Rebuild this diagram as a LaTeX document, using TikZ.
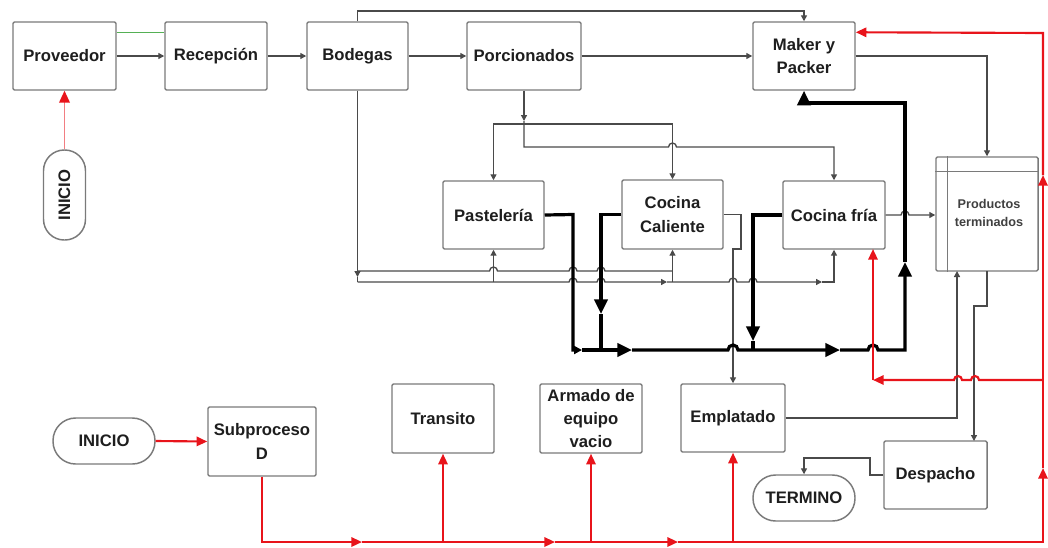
\documentclass[tikz,border=0pt]{standalone}
\usepackage{fontspec}
\setmainfont{Liberation Sans}
\usetikzlibrary{arrows.meta}
\definecolor{boxgray}{HTML}{7A7A7A}
\definecolor{linegray}{HTML}{4A4A4A}
\definecolor{txt}{HTML}{1E1E1E}
\definecolor{flowred}{HTML}{E8141B}
\definecolor{greenline}{HTML}{55B055}
\begin{document}
\begin{tikzpicture}[x=0.75pt,y=-0.75pt,
  wh/.style 2 args={minimum width=#1*0.75pt, minimum height=#2*0.75pt},
  proc/.style={draw=boxgray, line width=1.1pt, fill=white, rounded corners=1pt,
    inner sep=1pt, align=center, text=txt,
    font=\fontsize{12.5}{17.5}\selectfont\bfseries},
  stadium/.style={proc, rounded corners=17pt},
  thinline/.style={draw=linegray, line width=1pt},
  tarrow/.style={thinline, -{Triangle[length=4.5pt,width=4.5pt]}},
  thk/.style={draw=black, line width=2.4pt},
  tharrow/.style={thk, -{Triangle[length=11pt,width=10pt]}},
  rline/.style={draw=flowred, line width=1.6pt},
  rarrow/.style={rline, -{Triangle[length=8pt,width=7pt]}},
]
\useasboundingbox (0,0) rectangle (1048,547);

% ---- process boxes
\node[proc, wh={103}{68}] (prov) at (64.5,56) {Proveedor};
\node[proc, wh={102}{68}] (rec) at (216,56) {Recepción};
\node[proc, wh={101}{68}] (bod) at (357.5,56) {Bodegas};
\node[proc, wh={114}{68}] (porc) at (524,56) {Porcionados};
\node[proc, wh={102}{68}] (maker) at (804,56) {Maker y\\Packer};
\node[proc, wh={102}{114}] (prod) at (987,214) {};
\node[proc, wh={101}{68}] (past) at (493.5,215) {Pastelería};
\node[proc, wh={101}{69}] (cc) at (672.5,214.5) {Cocina\\Caliente};
\node[proc, wh={102}{68}] (cf) at (834,215) {Cocina fría};
\node[stadium, wh={90}{42}, rotate=90, rounded corners=15.5pt] (ini1) at (64.5,195) {INICIO};
\node[stadium, wh={102}{46}] (ini2) at (104,441) {INICIO};
\node[proc, wh={108}{69}] (sub) at (262,441.5) {Subproceso\\D};
\node[proc, wh={102}{69}] (trans) at (443,418.5) {Transito};
\node[proc, wh={102}{69}] (arm) at (591,418.5) {Armado de\\equipo\\vacio};
\node[proc, wh={104}{68}] (empl) at (733,418) {Emplatado};
\node[proc, wh={103}{68}] (desp) at (935.5,475) {Despacho};
\node[stadium, wh={102}{46}] (termino) at (804,498) {TERMINO};

% internal storage symbol for finished products
\draw[boxgray, line width=1.1pt] ([xshift=9pt]prod.north west) -- ([xshift=9pt]prod.south west);
\draw[boxgray, line width=1.1pt] ([yshift=-11.25pt]prod.north west) -- ([yshift=-11.25pt]prod.north east);
\node[font=\fontsize{9.5}{13}\selectfont\bfseries, text=txt!85, align=center] (prodtxt) at (989,213) {Productos\\terminados};

% ---- main supply chain
\draw[greenline, line width=0.9pt] ([yshift=-8.25pt]prov.north east) -- ([yshift=-8.25pt]rec.north west);
\draw[tarrow] (prov.east) -- (rec.west);
\draw[tarrow] (rec.east) -- (bod.west);
\draw[tarrow] (bod.east) -- (porc.west);
\draw[tarrow] (porc.east) -- (maker.west);
\draw[tarrow] (bod.north) -- (357.5,11) -- (804,11) -- (maker.north);
\draw[tarrow] (maker.east) -- (987,56) -- (prod.north);

% ---- Porcionados distribution
\draw[tarrow] (porc.south) -- (524,121);
\draw[tarrow] (524,124) -- (493.5,124) -- (past.north);
\draw[tarrow] (524,124) -- (672.5,124) -- (cc.north);
\draw[tarrow] (524,121) -- (524,147) -- (668.5,147)
  arc[start angle=180, end angle=0, radius=3pt] -- (834,147) -- (cf.north);

% ---- Bodegas distribution
\draw[tarrow] (bod.south) -- (357.5,277);
\draw[thinline] (357.5,277) -- (357.5,282);
\draw[thinline] (357.5,271) -- (489.5,271)
  arc[start angle=180, end angle=0, radius=3pt] -- (569,271)
  arc[start angle=180, end angle=0, radius=3pt] -- (597,271)
  arc[start angle=180, end angle=0, radius=3pt] -- (672.5,271);
\draw[tarrow] (357.5,282) -- (569,282)
  arc[start angle=180, end angle=0, radius=3pt] -- (597,282)
  arc[start angle=180, end angle=0, radius=3pt] -- (667,282);
\draw[tarrow] (667,282) -- (729,282)
  arc[start angle=180, end angle=0, radius=3pt] -- (749,282)
  arc[start angle=180, end angle=0, radius=3pt] -- (822,282);
\draw[tarrow] (822,282) -- (834,282) -- (cf.south);
\draw[tarrow] (493.5,282) -- (past.south);
\draw[tarrow] (672.5,282) -- (cc.south);

% ---- kitchens to plating and storage
\draw[tarrow] (cc.east) -- (741,214.5) -- (741,249) -- (733,249) -- (empl.north);
\draw[tarrow] (cf.east) -- (901,215)
  arc[start angle=180, end angle=0, radius=3pt] -- (prod.west |- cf.east);
\draw[tarrow] (empl.east) -- (957,418) -- (957,271);
\draw[tarrow] (987,271) -- (987,306) -- (974,306) -- (974,441);
\draw[tarrow] (desp.west) -- (870,475) -- (870,458) -- (804,458) -- (termino.north);

% ---- heavy production flow
\draw[thk, -{Triangle[length=6pt,width=6pt]}] (past.east) -- (573,214.5) -- (573,350) -- (582,350);
\draw[tharrow] (582,350) -- (632,350);
\draw[tharrow] (632,350) -- (728,350)
  arc[start angle=180, end angle=0, radius=3.75pt] -- (840,350);
\draw[tharrow] (840,350) -- (868,350)
  arc[start angle=180, end angle=0, radius=3.75pt] -- (905,350) -- (905,262);
\draw[tharrow] (905,262) -- (905,103) -- (804,103) -- (maker.south);
\draw[tharrow] (cc.west) -- (601,214.5) -- (601,314);
\draw[thk] (601,314) -- (601,350);
\draw[tharrow] (cf.west) -- (753,215) -- (753,341);
\draw[thk] (753,341) -- (753,350);

% ---- red control flow
\draw[draw=flowred!55, line width=1.3pt, -{Triangle[length=9pt,width=8pt,color=flowred]}] (ini1.east) -- (prov.south);
\draw[rarrow] (ini2.east) -- (sub.west);
\draw[rarrow] (sub.south) -- (262,542) -- (362,542);
\draw[rarrow] (362,542) -- (555,542);
\draw[rarrow] (555,542) -- (678,542);
\draw[rarrow] (678,542) -- (1043,542) -- (1043,468);
\draw[rarrow] (1043,468) -- (1043,175);
\draw[rarrow] (1043,175) -- (1043,33) -- ([yshift=-8.25pt]maker.north east);
\draw[rarrow] (443,542) -- (trans.south);
\draw[rarrow] (591,542) -- (arm.south);
\draw[rarrow] (733,542) -- (empl.south);
\draw[rarrow] (1043,380) -- (979,380)
  arc[start angle=0, end angle=180, radius=3pt] -- (962,380)
  arc[start angle=0, end angle=180, radius=3pt] -- (873,380);
\draw[rarrow] (873,380) -- (873,249);
\end{tikzpicture}
\end{document}
